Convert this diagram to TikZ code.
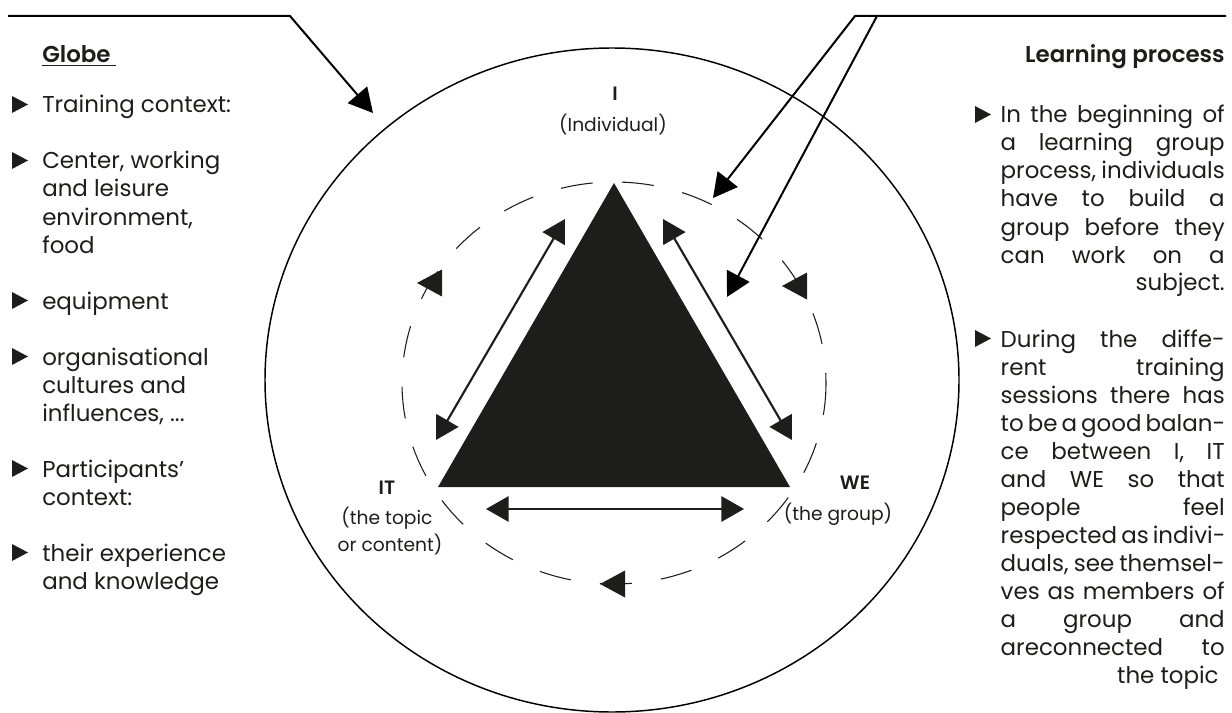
\documentclass[tikz,border=0pt]{standalone}
\usepackage{fontspec}
\setmainfont{Poppins}[BoldFont={Poppins SemiBold}]
\usetikzlibrary{arrows.meta}
\definecolor{tcInk}{HTML}{1D1D1B}
\tikzset{
  every node/.style={text=tcInk, inner sep=0pt},
  body/.style={font=\fontsize{17.2}{20}\selectfont},
  heading/.style={font=\fontsize{17.2}{20}\selectfont\bfseries},
  corner/.style={font=\fontsize{14.5}{16}\selectfont\bfseries},
  cornersub/.style={font=\fontsize{14}{16}\selectfont},
  globe/.style={draw=black, line width=1.1pt},
  orbit/.style={draw=tcInk, line width=0.8pt, dash pattern=on 24pt off 22pt},
  link/.style={
    {Triangle[length=17pt,width=19pt]}-{Triangle[length=17pt,width=19pt]},
    line width=1.6pt,
    draw=tcInk
  },
  pointer/.style={
    -{Triangle[length=18pt,width=19pt]},
    line width=1.5pt,
    draw=black
  }
}

\begin{document}
\begin{tikzpicture}[x=0.75pt,y=-0.75pt]
  \useasboundingbox (0,0) rectangle (1232,713);

  % globe and orbit
  \coordinate (globe) at (612,380);
  \coordinate (orbit) at (614,383);
  \draw[globe] (globe) ellipse [x radius=347, y radius=332];
  \draw[orbit] (orbit) ellipse [x radius=212, y radius=201];
  \foreach \x/\y in {417/283, 782/286, 600/584}{
    \fill[tcInk] (\x,\y) -- ++(25,-13.5) -- ++(0,27) -- cycle;
  }

  % triangle I / IT / WE
  \coordinate (I) at (614,183);
  \coordinate (IT) at (438,487);
  \coordinate (WE) at (790,487);
  \fill[tcInk] (I) -- (IT) -- (WE) -- cycle;

  \coordinate (left-top) at (565,219);
  \coordinate (left-bot) at (436,440);
  \coordinate (right-top) at (663,219);
  \coordinate (right-bot) at (792,440);
  \coordinate (base-l) at (486,509);
  \coordinate (base-r) at (744,509);
  \draw[link] (left-top) -- (left-bot);
  \draw[link] (right-top) -- (right-bot);
  \draw[link] (base-l) -- (base-r);

  \node[corner, anchor=base] (i-name) at (615,101) {I};
  \node[cornersub, anchor=base] (i-sub) at (613,132) {(Individual)};
  \node[corner, anchor=base] (it-name) at (387,494) {IT};
  \node[cornersub, anchor=base] (it-sub1) at (387,524) {(the topic};
  \node[cornersub, anchor=base] (it-sub2) at (390,551) {or content)};
  \node[corner, anchor=base] (we-name) at (855,489) {WE};
  \node[cornersub, anchor=base] (we-sub) at (838,520) {(the group)};

  % pointers from the two columns
  \coordinate (globe-a) at (8,16);
  \coordinate (globe-b) at (290,16);
  \coordinate (globe-c) at (373,113);
  \draw[pointer] (globe-a) -- (globe-b) -- (globe-c);
  \coordinate (learn-a) at (1226,16);
  \coordinate (learn-b) at (855,16);
  \coordinate (learn-c) at (713,198);
  \coordinate (learn-d) at (877,16);
  \coordinate (learn-e) at (727,297);
  \draw[pointer] (learn-a) -- (learn-b) -- (learn-c);
  \draw[pointer] (learn-d) -- (learn-e);

  % left column
  \node[heading, anchor=base west] (globe-title) at (42,63) {\underline{Globe\ }};
  \foreach \y/\txt [count=\i] in {
    113/{Training context:},
    169/{Center, working},
    197/{and leisure},
    225/{environment,},
    253/{food},
    309/{equipment},
    365/{organisational},
    393/{cultures and},
    421/{influences, ...},
    477/{Participants’},
    505/{context:},
    561/{their experience},
    589/{and knowledge}
  }{
    \node[body, anchor=base west] (globe-\i) at (42,\y) {\txt};
  }
  \foreach \y in {113,169,309,365,477,561}{
    \fill[tcInk] (12,\y) -- ++(0,-17) -- ++(16,8.5) -- cycle;
  }

  % right column
  \node[heading, anchor=base east] (learn-title) at (1225,63) {Learning process};
  \foreach \y/\txt [count=\i] in {
    123/{In the beginning of},
    151/{a learning group},
    179/{process, individuals},
    207/{have to build a},
    235/{group before they},
    263/{can work on a},
    291/{\hfill subject.},
    347/{During the diffe-},
    375/{rent training},
    403/{sessions there has},
    431/{to be a good balan-},
    459/{ce between I, IT},
    487/{and WE so that},
    515/{people feel},
    543/{respected as indivi-},
    571/{duals, see themsel-},
    599/{ves as members of},
    627/{a group and},
    655/{areconnected to},
    683/{\hfill the topic}
  }{
    \node[body, anchor=base east] (learn-\i) at (1225,\y) {\makebox[168pt][s]{\txt}};
  }
  \foreach \y in {123,347}{
    \fill[tcInk] (975,\y) -- ++(0,-17) -- ++(16,8.5) -- cycle;
  }
\end{tikzpicture}
\end{document}
